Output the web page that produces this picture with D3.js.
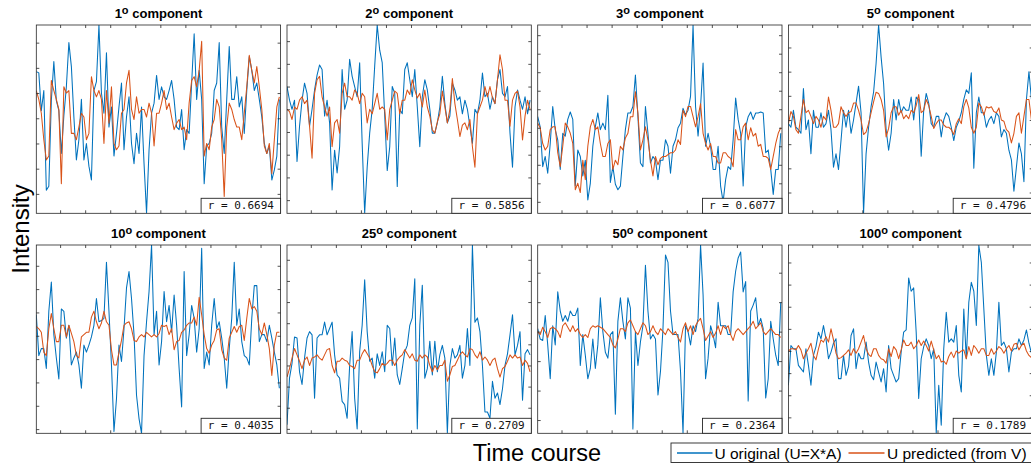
<!DOCTYPE html>
<html><head><meta charset="utf-8">
<script src="https://cdn.jsdelivr.net/npm/d3@7"></script>
<style>body{margin:0;background:#fff}svg{display:block}</style>
</head><body>
<svg id="chart" width="1031" height="466"></svg>
<script>
// ---------- data ----------
const componentIds = ["1","2","3","5","10","25","50","100"];
const rValues = ["0.6694","0.5856","0.6077","0.4796","0.4035","0.2709","0.2364","0.1789"];
const yMin = [-3.77,-4.58,-5.62,-3.86,-4.18,-4.21,-3.45,-3.72];
const yMax = [3.70,3.71,4.55,3.93,3.89,4.70,2.94,4.79];
const xTicks = [20,40,60,80,100,120,140,160,180];
const time = d3.range(1,196,2);
const legendLabels = ["U original (U=X*A)","U predicted (from V)"];

const orig1 = [1.85,1.8,0.3,1.1,-2.85,-2.7,0.7,2.25,0.7,0.3,-1.4,0.1,1.25,3.0,2.05,0.05,-1.65,-0.85,0.75,-1.65,-1.0,-1.9,-2.45,1.1,1.45,3.7,1.0,0.2,2.6,-0.35,0.45,-1.5,-0.6,0.45,1.4,-1.25,0.05,0.85,-1.0,-1.8,-0.6,-1.4,0.45,-1.8,-3.77,-1.25,0.2,0.6,1.7,0.75,1.25,0.85,0.75,1.1,1.5,0.75,-0.35,-0.45,0.35,-1.25,-0.45,-0.6,1.4,3.35,0.75,1.9,0.75,-2.6,-1.1,-1.0,-0.6,1.1,1.4,3.0,-0.35,-1.4,0.75,2.85,0.75,0.75,1.65,0.45,0.85,-0.6,1.1,2.45,1.9,1.1,1.4,0.75,0.05,-1.0,-1.4,-1.1,-2.45,-2.05,-1.5,0.75];
const pred1 = [1.1,0.75,0.2,-0.85,-1.65,-1.5,1.5,1.1,0.75,0.35,-2.6,1.25,1.0,1.1,-0.6,-0.6,-0.85,-0.35,0.2,0.05,-0.85,-0.6,1.65,1.1,0.85,1.1,0.75,-1.0,1.1,-0.2,1.25,-1.0,-1.25,-1.1,0.2,0.35,1.4,1.9,0.35,-0.05,0.85,0.2,0.35,0.35,0.05,0.6,0.2,-1.1,0.2,0.2,0.6,1.1,0.35,0.6,0.05,-0.45,-0.2,-0.05,-0.45,-0.35,-0.85,0.6,1.5,1.65,1.25,1.9,3.05,-1.5,-1.0,-1.25,-0.35,-0.05,0.75,0.45,-0.85,-3.1,-0.35,0.6,0.35,-0.05,-0.35,-0.35,-0.85,0.2,1.25,2.5,1.9,1.4,2.05,1.25,0.35,-1.1,-1.4,-1.0,-2.2,-0.85,0.45,0.85];
const orig2 = [1.0,0.4,0.0,0.4,-2.3,-0.75,0.4,1.15,0.7,-0.75,0.0,0.85,1.5,1.95,1.75,-0.3,0.4,-0.6,-3.55,-1.8,-2.8,-1.65,1.75,0.0,0.4,2.2,1.45,1.0,0.55,2.05,-1.5,-4.58,-2.55,-1.05,0.0,1.9,3.71,2.6,2.05,-0.3,-2.7,-1.65,1.0,0.7,-3.4,0.0,-0.2,1.75,2.05,1.3,0.55,1.75,0.1,-1.65,0.55,1.3,0.85,0.0,-1.05,-1.05,-0.6,0.1,1.45,0.25,-0.6,-0.3,1.15,0.85,0.4,0.55,-0.2,0.4,0.0,-0.75,-1.5,0.0,-0.2,0.4,1.6,0.55,0.7,0.0,0.55,0.25,1.3,1.75,0.7,0.55,1.0,-1.05,-2.55,0.1,0.85,0.4,0.0,0.55,-0.2,0.4];
const pred2 = [0.0,-0.1,-0.45,0.1,0.0,0.4,0.55,0.25,0.4,-0.75,-2.15,0.7,1.3,1.45,0.55,0.1,-0.3,0.1,-1.65,-0.6,-0.45,-1.05,0.7,1.15,0.55,0.55,0.4,0.85,0.7,0.25,0.7,0.55,-0.6,0.0,-0.2,0.25,0.7,0.0,0.1,0.0,-1.35,0.0,0.4,0.8,0.7,-0.2,0.4,0.4,0.85,0.65,1.3,0.85,0.5,0.7,0.1,0.85,0.1,-0.3,-0.9,-1.05,-0.55,-0.2,0.8,0.1,-0.6,0.0,1.35,0.25,-0.45,-1.2,-0.7,-0.6,-0.9,-0.45,-1.65,-2.55,-0.2,0.1,0.4,1.0,0.55,1.0,0.5,0.25,1.3,2.4,1.75,0.4,0.4,-0.75,0.4,0.7,0.8,0.1,-1.35,-0.3,0.4,0.0];
const orig3 = [-0.4,-0.95,-3.1,-2.55,-3.45,-1.85,0.15,-1.1,-1.65,-3.25,-1.3,-1.45,-0.55,-0.15,-0.55,-4.15,-2.2,-2.55,-3.6,-2.75,-4.9,-4.0,-2.0,-0.95,-0.2,-1.1,-0.75,-1.1,0.75,-3.95,-3.1,-4.05,-4.35,-4.15,-2.55,-1.1,-0.2,-0.2,0.15,1.85,-0.4,-2.9,-3.1,0.15,-1.3,-2.9,-2.55,-2.75,-3.8,-2.75,-2.75,-1.65,-2.0,-3.45,-2.0,-1.65,-1.0,-0.75,0.05,-0.3,-0.05,0.7,4.55,0.15,-1.45,0.15,2.5,-2.0,-1.3,-2.0,-3.25,-3.25,-2.0,-4.15,-5.0,-3.8,-3.1,-3.25,-1.65,0.6,-0.55,-1.3,-4.15,-0.95,-0.4,-0.15,-0.55,-0.2,-0.2,-0.15,-0.2,-2.35,-2.2,-3.25,-4.6,-3.25,-3.25,-1.3];
const pred3 = [-0.75,-1.0,-1.85,-2.2,-2.0,-1.1,-0.95,-0.95,-2.35,-3.1,-2.0,-0.75,-0.95,-1.3,-1.85,-4.35,-4.0,-4.5,-2.75,-3.8,-2.0,-0.95,-0.55,-1.1,-0.95,-1.85,-2.55,-2.55,-1.85,-1.65,-3.25,-2.75,-3.0,-2.0,-2.2,-1.55,-1.3,-0.4,-0.4,0.95,-0.2,-2.2,-1.65,-0.95,-1.65,-2.75,-3.6,-2.55,-3.0,-2.65,-2.55,-2.55,-2.45,-2.35,-2.35,-2.2,-1.65,-1.9,-0.05,-0.4,0.15,0.15,-0.4,-0.95,-0.4,0.3,-1.3,-1.85,-2.2,-1.85,-2.55,-2.55,-2.9,-2.9,-2.35,-2.35,-2.55,-2.65,-3.1,-1.1,-1.65,-1.65,-0.95,-0.75,-1.65,-1.0,-1.45,-1.3,-2.0,-1.9,-2.55,-2.55,-2.65,-3.25,-2.55,-1.85,-1.3,-1.0];
const orig4 = [-0.15,-0.3,0.4,-0.3,-0.4,-0.55,1.3,-0.4,0.0,-1.4,0.4,-0.3,-0.3,0.3,-0.3,-0.15,0.4,-0.4,-1.95,-1.4,-2.05,-0.85,0.4,-0.3,0.4,-0.55,0.0,0.7,1.4,0.3,-3.86,-1.4,-0.3,0.55,1.15,2.35,3.93,2.6,1.5,-0.4,-1.25,-0.55,0.85,0.0,0.85,0.3,0.55,0.4,0.4,0.95,0.0,0.95,0.85,-1.5,0.4,1.1,0.7,-0.15,-0.3,0.15,0.15,-0.7,0.0,0.3,0.15,-0.3,-0.85,-0.3,-0.05,0.3,0.85,1.25,1.1,1.95,-2.0,0.3,0.95,0.3,0.3,-0.3,0.0,0.15,-0.15,0.3,0.15,-0.7,-0.4,-0.55,-1.25,-1.65,-2.95,-1.95,-0.95,-1.4,-2.55,0.85,2.0,0.85];
const pred4 = [-0.15,0.35,0.15,-0.4,-0.55,0.15,0.85,0.3,0.4,0.15,-0.15,0.15,0.0,-0.3,0.15,0.0,0.95,0.4,-0.3,-0.3,-0.15,0.55,0.3,0.15,0.3,0.35,0.7,0.7,0.4,0.0,-0.6,-0.5,-0.15,0.3,0.75,1.15,1.1,0.85,0.4,-0.7,-0.35,0.3,0.55,0.55,0.2,0.4,0.05,0.2,0.05,0.4,0.3,0.6,1.05,0.3,0.4,0.85,0.6,0.15,-0.35,-0.15,0.0,0.0,-0.2,-0.3,-0.3,-0.4,-0.6,-0.15,0.05,-0.15,0.55,0.85,0.5,-0.3,-0.55,-0.3,0.7,0.55,0.2,0.55,0.5,0.55,0.35,0.3,0.5,0.0,-0.05,-0.4,-0.5,-0.95,-0.55,0.15,0.3,-0.55,0.15,0.85,0.85,0.0];
const orig5 = [0.9,-0.85,-0.55,-0.55,-1.4,1.05,2.3,0.05,-0.95,-1.85,1.15,1.05,-0.1,0.45,-1.25,-0.95,-0.7,-1.25,-2.25,-0.4,-0.7,-0.4,-0.05,0.45,1.6,0.6,0.65,0.75,3.15,1.05,-1.25,-4.1,-2.7,-0.4,-1.1,0.3,2.05,2.75,1.6,0.05,-2.55,-3.55,-4.18,-0.85,0.6,1.9,3.89,0.05,1.05,-1.25,-0.25,1.9,0.6,1.3,0.15,1.75,0.45,-1.4,-3.05,2.75,-0.85,0.05,1.3,0.75,-0.7,0.3,3.75,-1.4,-0.7,-1.25,0.45,1.6,0.3,0.6,-0.1,-0.95,-2.25,-0.55,0.75,3.15,0.45,1.15,-0.25,-0.85,-0.95,-1.25,0.75,2.15,2.15,-0.25,0.05,0.05,-0.25,0.45,-0.1,-0.7,-1.25,-2.25];
const pred5 = [0.4,0.3,0.15,-0.7,-0.85,0.3,0.95,0.3,-0.25,-0.25,0.45,0.45,-0.05,0.45,0.1,-0.25,-0.85,-0.95,-0.05,0.05,0.15,0.15,0.8,1.05,0.6,0.3,0.55,1.05,0.6,0.45,-0.6,-1.25,-1.25,-0.7,-0.2,0.45,0.55,0.6,0.3,-0.2,-0.25,-0.05,0.05,-0.05,0.15,0.05,-0.05,0.05,-0.05,0.1,0.45,0.4,0.45,0.05,0.3,-0.6,-0.25,-0.2,0.15,0.25,0.45,0.55,0.55,0.8,0.45,1.65,0.9,0.05,-0.55,-0.75,-0.4,-0.2,0.25,0.3,-0.6,-0.95,-1.05,-0.1,0.15,0.4,0.15,0.4,0.45,-0.2,0.75,1.6,1.15,1.25,1.05,0.3,0.05,0.55,0.05,-0.55,-1.7,-0.4,0.15,0.15];
const orig6 = [-3.8,-1.6,-0.9,0.35,0.3,-1.3,-1.9,-0.65,0.3,0.6,0.45,-2.55,0.3,0.45,0.45,1.05,0.45,0.75,1.05,-0.5,-1.45,-1.6,-2.7,-2.85,-3.5,-1.0,0.6,-2.55,-4.0,-0.35,0.9,3.05,0.6,-0.8,-0.65,-1.6,-0.45,-1.0,-0.35,-1.3,0.9,0.75,-1.0,0.3,-1.45,-1.9,-1.15,-0.35,-0.05,0.9,1.25,3.1,-4.0,0.9,2.8,-1.6,-1.15,0.15,-1.45,0.15,-1.3,-0.5,-0.05,-0.65,-4.21,-1.0,-0.2,-0.65,-0.5,-0.05,-1.6,-1.0,0.75,-1.0,4.7,1.05,1.25,0.6,-1.0,-3.2,-3.2,-3.5,-1.75,-2.55,-2.3,-2.85,-2.1,-1.0,-0.45,0.45,1.4,-0.5,-0.05,0.6,-2.65,-0.45,-0.25,-0.5];
const pred6 = [-1.55,-1.15,-0.65,-0.2,-0.5,-0.8,-1.15,-0.75,-0.6,-1.0,-0.65,-0.6,-0.5,-0.65,-0.75,-0.5,-0.25,-0.2,-1.0,-1.35,-0.8,-0.8,-0.65,-0.75,-0.8,-1.0,-1.05,-1.15,-0.75,-0.75,-0.45,-0.25,-0.45,-0.65,-1.0,-1.3,-1.35,-1.15,-0.9,-1.0,-0.9,-0.75,-0.75,-1.0,-0.75,-0.6,-0.5,-0.25,-0.45,-0.65,-0.45,-0.75,-0.8,-0.5,-0.65,-0.5,-0.6,-1.0,-1.3,-1.0,-1.2,-1.0,-1.0,-0.75,-1.75,-1.45,-1.05,-1.0,-0.75,-0.5,-0.35,-0.5,-0.6,-0.2,-0.25,-0.5,-0.65,-0.35,-0.75,-0.6,-0.75,-1.0,-0.75,-0.65,-1.15,-1.55,-1.15,-1.05,-0.8,-0.5,-0.65,-0.5,-0.65,-0.6,-1.0,-0.75,-0.9,-1.3];
const orig7 = [0.1,-0.25,-0.3,0.55,-0.45,-1.6,0.2,-0.45,1.35,0.7,0.35,0.55,0.35,0.7,0.55,0.55,0.8,-1.15,-0.1,-0.8,-1.6,-1.25,-0.25,-1.25,-0.45,1.15,0.0,-0.7,-0.9,-0.1,0.0,-2.8,0.35,1.15,0.35,-0.25,1.15,0.8,-3.3,0.0,-1.15,-0.35,0.2,2.25,0.7,-0.25,-0.1,-0.25,-2.15,-1.35,0.1,2.6,2.35,0.7,-0.1,-0.1,-0.1,-1.35,-3.45,0.2,0.0,-0.45,0.2,0.0,0.45,2.94,1.25,-1.6,-0.9,0.2,-0.1,-0.55,1.0,0.2,0.2,0.2,-0.1,-0.1,1.35,2.05,2.5,2.7,1.35,1.7,-2.35,0.7,0.9,1.15,0.2,0.45,0.1,-2.25,-1.6,0.35,-0.25,-0.8,-1.15,1.0];
const pred7 = [0.0,-0.1,0.15,0.0,-0.2,0.1,0.15,0.1,0.0,-0.2,0.2,0.3,0.15,0.0,0.2,0.0,0.1,-0.1,-0.2,-0.1,-0.2,0.1,0.2,0.15,0.2,0.15,0.1,0.0,-0.1,-0.2,-0.45,-0.55,-0.25,0.1,0.1,0.0,0.3,0.4,0.2,0.0,-0.1,0.1,0.3,0.2,-0.1,0.0,0.2,0.0,-0.1,0.1,0.0,-0.1,0.1,0.0,-0.1,0.0,-0.2,-0.35,0.1,0.3,0.0,0.2,-0.1,0.2,0.35,0.45,0.1,-0.3,-0.15,0.0,-0.2,-0.05,0.2,-0.1,0.2,0.1,0.2,-0.1,-0.3,0.0,0.1,0.0,-0.1,0.0,0.1,0.2,0.35,0.1,0.2,0.3,0.0,-0.1,0.0,0.1,0.0,-0.1,-0.1,-0.2];
const orig8 = [-1.55,0.25,0.1,0.1,-0.65,-0.8,-0.95,0.1,-0.65,-1.55,-0.2,0.2,0.85,0.55,1.15,0.55,-0.35,-0.05,0.35,0.55,-1.25,-1.25,-0.2,-1.1,-0.7,0.7,1.0,-0.8,-0.1,-0.35,-0.35,0.4,-0.5,-1.1,-1.3,-0.5,-0.95,-1.4,-0.8,-1.85,0.25,-0.8,-1.1,-1.4,-1.25,-0.05,0.85,0.95,3.3,2.7,2.85,0.85,-2.15,-0.35,0.2,0.55,0.25,-0.35,0.1,-3.72,-1.55,-3.35,0.1,1.75,0.4,0.55,0.4,1.15,-1.1,-1.85,1.9,-0.35,2.2,3.1,2.7,1.15,4.78,4.0,1.9,-0.2,-1.1,-0.35,-1.1,-0.05,2.2,0.25,0.4,0.1,-0.95,-0.05,0.1,0.1,0.55,0.25,0.5,0.95,0.35,-0.1];
const pred8 = [0.0,0.1,0.1,0.05,0.25,0.05,-0.35,-0.1,0.1,0.35,-0.2,-0.4,0.1,0.5,0.4,0.65,0.4,1.0,0.5,-0.1,-0.35,-0.3,-0.2,-0.1,0.05,-0.2,0.1,-0.1,0.1,0.4,0.7,0.1,-0.15,-0.25,0.1,0.1,-0.2,-0.35,-0.4,-0.55,0.1,-0.25,0.2,0.05,-0.35,0.05,0.5,0.25,0.25,0.4,0.1,0.25,0.5,0.25,0.45,0.25,0.0,0.45,0.05,-0.35,-0.2,-0.5,-0.45,-0.6,-0.25,-0.05,-0.3,0.0,-0.1,0.0,0.05,-0.35,0.2,-0.2,0.25,0.1,-0.1,0.1,0.1,-0.2,-0.2,0.1,-0.15,0.0,0.2,0.1,-0.1,0.1,0.25,0.0,0.3,0.35,0.05,0.25,0.35,0.0,-0.2,-0.3];

const originals = [orig1,orig2,orig3,orig4,orig5,orig6,orig7,orig8];
const predicted = [pred1,pred2,pred3,pred4,pred5,pred6,pred7,pred8];

// ---------- layout ----------
const blue = "#0072BD", orange = "#D95319", axisColor = "#262626";
const leftX = 36.3, colStep = 250.7, topY = 25, rowStep = 220, pw = 244.3, ph = 188.3;
const svg = d3.select("#chart");
svg.append("rect").attr("width",1031).attr("height",466).attr("fill","#fff");

componentIds.forEach((cid, k) => {
  const col = k % 4, row = Math.floor(k / 4);
  const g = svg.append("g").attr("transform", `translate(${leftX + col*colStep},${topY + row*rowStep})`);
  const x = d3.scaleLinear().domain([1,196]).range([0,pw]);
  const y = d3.scaleLinear().domain([yMin[k], yMax[k]]).range([ph,0]);
  const clipId = "clip" + k;
  g.append("clipPath").attr("id", clipId).append("rect").attr("width", pw).attr("height", ph);
  const line = d3.line().x((d,i) => x(time[i])).y(d => y(d));
  const plot = g.append("g").attr("clip-path", `url(#${clipId})`);
  plot.append("path").datum(originals[k]).attr("d", line).attr("fill","none")
      .attr("stroke", blue).attr("stroke-width", 1.05).attr("stroke-linejoin","round");
  plot.append("path").datum(predicted[k]).attr("d", line).attr("fill","none")
      .attr("stroke", orange).attr("stroke-width", 1.05).attr("stroke-linejoin","round");

  const tl = 3;
  const yTicks = d3.range(Math.ceil(yMin[k]), Math.floor(yMax[k]) + 1);
  const mk = (axis) => axis.tickSize(-tl).tickSizeOuter(0).tickFormat("");
  const axes = [
    [d3.axisBottom(x).tickValues(xTicks), `translate(0,${ph})`],
    [d3.axisTop(x).tickValues(xTicks), `translate(0,0)`],
    [d3.axisLeft(y).tickValues(yTicks), `translate(0,0)`],
    [d3.axisRight(y).tickValues(yTicks), `translate(${pw},0)`]
  ];
  axes.forEach(([a, tr]) => {
    const ag = g.append("g").attr("transform", tr).call(mk(a));
    ag.select(".domain").remove();
    ag.selectAll("line").attr("stroke", axisColor).attr("stroke-width", 0.8);
  });
  g.append("rect").attr("width", pw).attr("height", ph).attr("fill","none")
    .attr("stroke", axisColor).attr("stroke-width", 0.8);

  const t = g.append("text").attr("x", pw/2).attr("y", -6.7).attr("text-anchor","middle")
    .attr("font-family","'Liberation Sans', Arial, Helvetica, sans-serif")
    .attr("font-weight","bold").attr("font-size", 13).attr("fill","#000");
  t.append("tspan").text(cid);
  t.append("tspan").attr("dy", -4.5).attr("font-size", 11).text("o");
  t.append("tspan").attr("dy", 4.5).text(" component");

  const bw = 79.5, bh = 15;
  g.append("rect").attr("x", pw - bw).attr("y", ph - bh).attr("width", bw).attr("height", bh)
    .attr("fill","#fff").attr("stroke", axisColor).attr("stroke-width", 0.9);
  g.append("text").attr("x", pw - bw/2).attr("y", ph - 4).attr("text-anchor","middle")
    .attr("font-family","'DejaVu Sans Mono', monospace").attr("font-size", 11).attr("fill","#111")
    .text("r = " + rValues[k]);
});

svg.append("text").attr("transform","translate(29,229) rotate(-90)").attr("text-anchor","middle")
  .attr("font-family","'Liberation Sans', Arial, Helvetica, sans-serif").attr("font-size", 24).attr("fill","#000")
  .text("Intensity");
svg.append("text").attr("x", 537).attr("y", 460.5).attr("text-anchor","middle")
  .attr("font-family","'Liberation Sans', Arial, Helvetica, sans-serif").attr("font-size", 23.5).attr("fill","#000")
  .text("Time course");

const lg = svg.append("g");
lg.append("rect").attr("x", 671).attr("y", 443).attr("width", 380).attr("height", 19.5)
  .attr("fill","#fff").attr("stroke", axisColor).attr("stroke-width", 0.9);
const items = [{c: blue, x1: 677, x2: 712.5, tx: 714.5}, {c: orange, x1: 848.5, x2: 884.5, tx: 887}];
items.forEach((it, i) => {
  lg.append("line").attr("x1", it.x1).attr("x2", it.x2).attr("y1", 453).attr("y2", 453)
    .attr("stroke", it.c).attr("stroke-width", 1.6);
  lg.append("text").attr("x", it.tx).attr("y", 458.8)
    .attr("font-family","'Liberation Sans', Arial, Helvetica, sans-serif").attr("font-size", 15.5).attr("fill","#000")
    .text(legendLabels[i]);
});
</script>
</body></html>
